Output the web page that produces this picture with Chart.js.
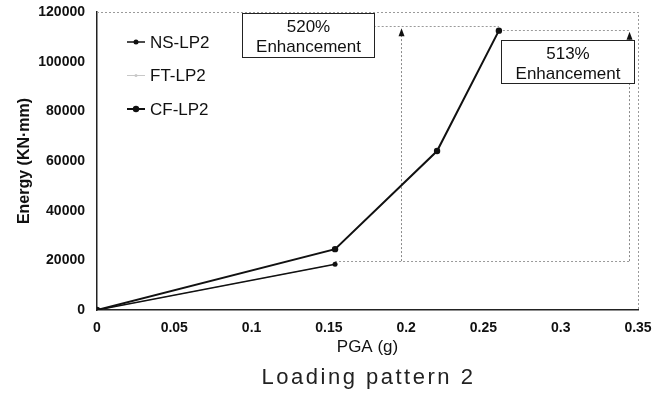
<!DOCTYPE html>
<html>
<head>
<meta charset="utf-8">
<script src="https://cdn.jsdelivr.net/npm/chart.js@4.4.1/dist/chart.umd.min.js"></script>
<style>
    html, body { margin: 0; padding: 0; background: #fff; }
    #wrap { width: 667px; height: 398px; }
</style>
</head>
<body>
<div id="wrap"><canvas id="energyChart" width="667" height="398"></canvas></div>
<script>
// PGA reached by each specimen (g)
const nsPga = [0, 0.154];
const ftPga = [0, 0.154];
const cfPga = [0, 0.154, 0.22, 0.26];

// absorbed energy (KN·mm)
const nsEnergy = [0, 18400];
const ftEnergy = [0, 18400];
const cfEnergy = [0, 24500, 64000, 112500];

const seriesNames = ['NS-LP2', 'FT-LP2', 'CF-LP2'];
const xTickLabels = ['0', '0.05', '0.1', '0.15', '0.2', '0.25', '0.3', '0.35'];
const yTickLabels = ['0', '20000', '40000', '60000', '80000', '100000', '120000'];
const enhancementText = [['520%', 'Enhancement'], ['513%', 'Enhancement']];

// dimension lines for the enhancement callouts, in data units
const guideLines = [
    { x: [0.154, 0.345], y: [19700, 19700] },
    { x: [0.179, 0.26], y: [114400, 114400] },
    { x: [0.26, 0.345], y: [112700, 112700] }
];
const arrows = [
    { x: 0.1965, from: 19700, to: 113500 },
    { x: 0.3442, from: 19700, to: 112000 }
];
const calloutBoxes = [
    { x0: 0.094, x1: 0.179, top: 119600, bottom: 101900 },
    { x0: 0.2614, x1: 0.3474, top: 108700, bottom: 91400 }
];

const FONT = "'Liberation Sans', Arial, sans-serif";

function toPoints(xs, ys) {
    return xs.map((x, i) => ({ x: x, y: ys[i] }));
}

const calloutPlugin = {
    id: 'callouts',
    beforeDatasetsDraw(chart) {
        const ctx = chart.ctx;
        const xs = chart.scales.x, ys = chart.scales.y;
        const area = chart.chartArea;
        ctx.save();
        ctx.strokeStyle = '#9a9a9a';
        ctx.lineWidth = 1;
        ctx.setLineDash([2, 2]);
        // dotted frame on top and right
        ctx.beginPath();
        ctx.moveTo(area.left, area.top + 0.5);
        ctx.lineTo(area.right + 0.5, area.top + 0.5);
        ctx.lineTo(area.right + 0.5, area.bottom);
        ctx.stroke();

        guideLines.forEach(g => {
            ctx.beginPath();
            ctx.moveTo(xs.getPixelForValue(g.x[0]), Math.round(ys.getPixelForValue(g.y[0])) + 0.5);
            ctx.lineTo(xs.getPixelForValue(g.x[1]), Math.round(ys.getPixelForValue(g.y[1])) + 0.5);
            ctx.stroke();
        });
        arrows.forEach(a => {
            const px = Math.round(xs.getPixelForValue(a.x)) + 0.5;
            const tip = ys.getPixelForValue(a.to);
            ctx.strokeStyle = '#8a8a8a';
            ctx.beginPath();
            ctx.moveTo(px, ys.getPixelForValue(a.from));
            ctx.lineTo(px, tip + 6);
            ctx.stroke();
            ctx.fillStyle = '#111';
            ctx.beginPath();
            ctx.moveTo(px, tip);
            ctx.lineTo(px - 3, tip + 8);
            ctx.lineTo(px + 3, tip + 8);
            ctx.closePath();
            ctx.fill();
        });
        ctx.restore();
    },
    afterDatasetsDraw(chart) {
        const ctx = chart.ctx;
        const xs = chart.scales.x, ys = chart.scales.y;
        ctx.save();
        calloutBoxes.forEach((b, i) => {
            const l = Math.round(xs.getPixelForValue(b.x0)) + 0.5;
            const r = Math.round(xs.getPixelForValue(b.x1)) + 0.5;
            const t = Math.round(ys.getPixelForValue(b.top)) + 0.5;
            const btm = Math.round(ys.getPixelForValue(b.bottom)) + 0.5;
            ctx.fillStyle = '#fff';
            ctx.fillRect(l, t, r - l, btm - t);
            ctx.strokeStyle = '#222';
            ctx.lineWidth = 1;
            ctx.strokeRect(l, t, r - l, btm - t);
            ctx.fillStyle = '#111';
            ctx.font = '17px ' + FONT;
            ctx.textAlign = 'center';
            ctx.textBaseline = 'middle';
            const cx = (l + r) / 2, cy = (t + btm) / 2;
            ctx.fillText(enhancementText[i][0], cx, cy - 8);
            ctx.fillText(enhancementText[i][1], cx, cy + 12);
        });
        ctx.restore();
    },
    afterDraw(chart) {
        const ctx = chart.ctx;
        const area = chart.chartArea;
        ctx.save();
        // legend inside the plot, top left
        const lx = area.left + 30, ly = area.top + 30, step = 33.5;
        chart.data.datasets.forEach((ds, i) => {
            const y = ly + i * step;
            ctx.strokeStyle = ds.borderColor;
            ctx.lineWidth = ds.borderWidth;
            ctx.setLineDash([]);
            ctx.beginPath();
            ctx.moveTo(lx, y);
            ctx.lineTo(lx + 18, y);
            ctx.stroke();
            ctx.fillStyle = ds.pointBackgroundColor;
            ctx.beginPath();
            ctx.arc(lx + 9, y, ds.pointRadius, 0, Math.PI * 2);
            ctx.fill();
            ctx.fillStyle = '#111';
            ctx.font = '17px ' + FONT;
            ctx.textAlign = 'left';
            ctx.textBaseline = 'middle';
            ctx.fillText(ds.label, lx + 23, y + 1);
        });
        // caption under the axis
        ctx.font = '22px ' + FONT;
        ctx.letterSpacing = '2.5px';
        ctx.fillStyle = '#222';
        ctx.textAlign = 'center';
        ctx.textBaseline = 'middle';
        ctx.fillText('Loading pattern 2', (area.left + area.right) / 2 + 1, 378);
        ctx.restore();
    }
};

const chart = new Chart(document.getElementById('energyChart'), {
    type: 'line',
    data: {
        datasets: [
            {
                label: seriesNames[0],
                data: toPoints(nsPga, nsEnergy),
                borderColor: '#111',
                borderWidth: 1.5,
                pointRadius: 2.5,
                pointBackgroundColor: '#111',
                pointBorderWidth: 0,
                order: 2
            },
            {
                label: seriesNames[1],
                data: toPoints(ftPga, ftEnergy),
                borderColor: '#c8c8c8',
                borderWidth: 1,
                pointRadius: 1.5,
                pointBackgroundColor: '#c8c8c8',
                pointBorderWidth: 0,
                order: 3
            },
            {
                label: seriesNames[2],
                data: toPoints(cfPga, cfEnergy),
                borderColor: '#111',
                borderWidth: 2,
                pointRadius: 3.2,
                pointBackgroundColor: '#111',
                pointBorderWidth: 0,
                order: 1
            }
        ]
    },
    options: {
        responsive: false,
        animation: false,
        layout: { padding: { top: 12, right: 29, bottom: 34, left: 0 } },
        plugins: {
            legend: { display: false },
            tooltip: { enabled: false }
        },
        elements: { line: { tension: 0 } },
        scales: {
            x: {
                type: 'linear',
                min: 0,
                max: 0.35,
                afterFit: function(scale) { scale.height = 54; },
                grid: { display: false, drawTicks: false },
                border: { display: true, color: '#222', width: 1.5 },
                ticks: {
                    stepSize: 0.05,
                    padding: 10,
                    color: '#111',
                    font: { family: FONT, size: 14, weight: 'bold' },
                    maxRotation: 0,
                    callback: function(value, index) { return xTickLabels[index]; }
                },
                title: {
                    display: true,
                    text: 'PGA (g)',
                    color: '#111',
                    font: { family: FONT, size: 17 },
                    padding: { top: 0, bottom: 6 }
                }
            },
            y: {
                min: 0,
                max: 120000,
                afterFit: function(scale) {
                    scale.width = 97;
                    // labels may overhang the plot top; the layout padding covers it
                    scale.paddingTop = 0;
                    scale.paddingBottom = 0;
                },
                grid: { display: false, drawTicks: false },
                border: { display: true, color: '#222', width: 1.5 },
                ticks: {
                    stepSize: 20000,
                    padding: 12,
                    color: '#111',
                    font: { family: FONT, size: 14, weight: 'bold' },
                    callback: function(value, index) { return yTickLabels[index]; }
                },
                title: {
                    display: true,
                    text: 'Energy (KN·mm)',
                    color: '#111',
                    font: { family: FONT, size: 16, weight: 'bold' },
                    padding: { top: 15, bottom: 0 }
                }
            }
        }
    },
    plugins: [calloutPlugin]
});
</script>
</body>
</html>
